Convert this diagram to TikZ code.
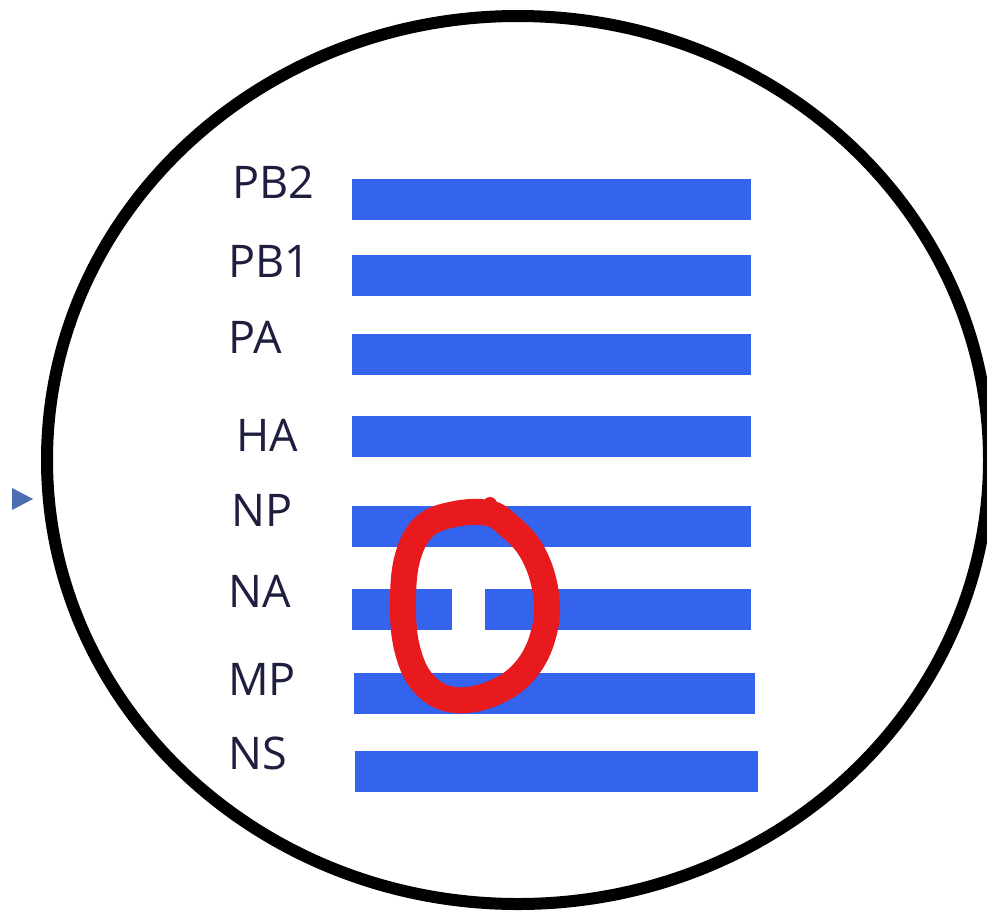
\documentclass[tikz,border=0pt]{standalone}
\usepackage{fontspec}
\setmainfont{Open Sans}
\definecolor{barblue}{RGB}{52,100,238}
\definecolor{labelnavy}{RGB}{30,30,62}
\definecolor{markred}{RGB}{232,26,30}
\definecolor{tri}{RGB}{74,110,176}
\tikzset{
  bar/.style={fill=barblue, inner sep=0pt, minimum height=41pt},
  lbl/.style={anchor=west, inner sep=0pt, text=labelnavy, font=\fontsize{45}{54}\selectfont},
}
\begin{document}
\begin{tikzpicture}[x=1pt,y=-1pt]
\useasboundingbox (0,0) rectangle (987,913);
% outer ellipse
\draw[line width=12pt] (518,460) ellipse [x radius=471, y radius=444];
% small triangle at left
\fill[tri] (12,488) -- (12,510) -- (33,499) -- cycle;
% bars
\node[bar, minimum width=399pt] (bPB2) at (551.5,199.5) {};
\node[bar, minimum width=399pt] (bPB1) at (551.5,275.5) {};
\node[bar, minimum width=399pt] (bPA)  at (551.5,354.5) {};
\node[bar, minimum width=399pt] (bHA)  at (551.5,436) {};
\node[bar, minimum width=399pt] (bNP)  at (551.5,526) {};
\node[bar, minimum width=100pt] (bNAl) at (402,609.5) {};
\node[bar, minimum width=266pt] (bNAr) at (618,609.5) {};
\node[bar, minimum width=401pt] (bMP)  at (554.5,693) {};
\node[bar, minimum width=403pt] (bNS)  at (556.5,771.5) {};
% labels
\node[lbl] (lPB2) at (232,182) {PB2};
\node[lbl] (lPB1) at (228,261) {PB1};
\node[lbl] (lPA)  at (228,337) {PA};
\node[lbl] (lHA)  at (236,435) {HA};
\node[lbl] (lNP)  at (231,510) {NP};
\node[lbl] (lNA)  at (228,591) {NA};
\node[lbl] (lMP)  at (228,679) {MP};
\node[lbl] (lNS)  at (228,753) {NS};
% red hand-drawn loop
\draw[markred, line width=26pt, line join=round, line cap=round]
  plot[smooth cycle, tension=0.65] coordinates {
   (488,513) (455,514) (425,526) (408,556) (403,600) (407,648)
   (424,684) (455,700) (496,692) (528,667) (545,628) (545,588)
   (531,550) (507,524)};
\draw[markred, line width=14pt, line cap=round] (484,516) -- (490,504);
\end{tikzpicture}
\end{document}
